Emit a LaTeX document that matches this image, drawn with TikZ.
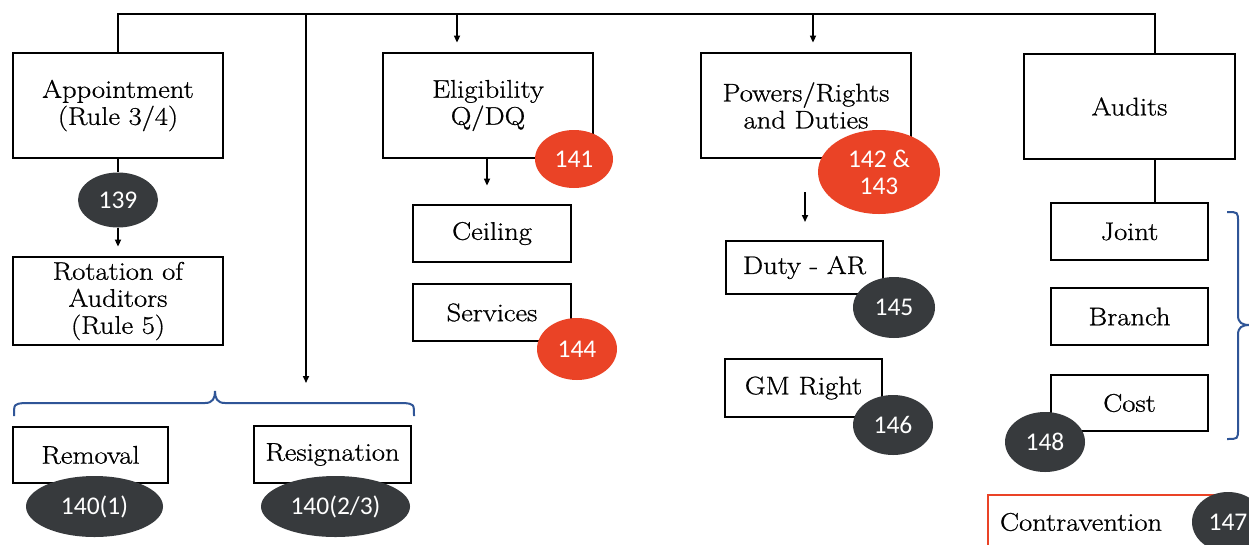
\documentclass[tikz,border=0pt]{standalone}
\usepackage{fontspec}
\newfontfamily\numfont{Carlito}
\newfontfamily\boxfont{Latin Modern Roman}[FakeBold=0.8,FakeStretch=1.12]
\usetikzlibrary{arrows.meta,shapes.geometric}
\definecolor{badgered}{RGB}{234,67,38}
\definecolor{badgedark}{RGB}{55,58,61}
\definecolor{bracketblue}{RGB}{47,85,151}

\begin{document}
\begin{tikzpicture}[x=1pt,y=-1pt,
  box/.style={draw=black, line width=2.8pt, fill=white, align=center,
    font=\boxfont\fontsize{25.5}{27}\selectfont, inner sep=0pt},
  badge/.style={ellipse, fill=#1, text=white, inner sep=0pt, align=center,
    font=\numfont\fontsize{25.5}{27}\selectfont},
  link/.style={line width=1.6pt},
  arr/.style={line width=1.6pt, -{Triangle[length=7pt,width=6pt]}},
  brace/.style={draw=bracketblue, line width=2pt}]

\useasboundingbox (0,0) rectangle (1249,544);
\fill[white] (0,0) rectangle (1249,544);
\clip (0,0) rectangle (1249,544);

% --- top row of topics
\node[box, minimum width=210pt, minimum height=105pt] (app)   at (118,105.5)  {Appointment\\(Rule 3/4)};
\node[box, minimum width=210pt, minimum height=105pt] (elig)  at (488,105.5)  {Eligibility\\Q/DQ};
\node[box, minimum width=210pt, minimum height=105pt] (pow)   at (806,105.5)  {Powers/Rights\\and Duties};
\node[box, minimum width=211pt, minimum height=105pt] (aud)   at (1129.5,106.5) {Audits};

% --- second level
\node[box, minimum width=210pt, minimum height=88pt] (rot)   at (118,301)    {Rotation of\\Auditors\\(Rule 5)};
\node[box, minimum width=155pt, minimum height=56pt] (rem)   at (90.5,455)   {Removal};
\node[box, minimum width=157pt, minimum height=57pt] (res)   at (332.5,454.5) {Resignation};
\node[box, minimum width=158pt, minimum height=57pt] (ceil)  at (492,233.5)  {Ceiling};
\node[box, minimum width=158pt, minimum height=57pt] (serv)  at (492,312.5)  {Services};
\node[box, minimum width=157pt, minimum height=53pt] (duty)  at (804.5,267.5) {Duty - AR};
\node[box, minimum width=157pt, minimum height=58pt] (gm)    at (803.5,388)  {GM Right};
\node[box, minimum width=157pt, minimum height=57pt] (joint) at (1129.5,231.5) {Joint};
\node[box, minimum width=157pt, minimum height=57pt] (branch) at (1129.5,316.5) {Branch};
\node[box, minimum width=157pt, minimum height=56pt] (cost)  at (1129.5,403)  {Cost};
\node[box, draw=badgered, line width=2pt, minimum height=54pt, text width=203pt,
      inner xsep=12pt, align=left] (contra) at (1101.5,522) {Contravention};

% --- connectors
\coordinate (busR) at (1155,14);
\coordinate (rtap) at (306,14);
\coordinate (rend) at (306,383);
\coordinate (etap) at (457,14);
\coordinate (ptap) at (813,14);
\coordinate (cdrop) at (487,0);
\coordinate (dstart) at (805,192);
\coordinate (dend) at (805,222);

\draw[link] (app.north) -- (app.north |- busR) -- (busR) -- (busR |- aud.north);
\draw[arr] (rtap) -- (rend);
\draw[arr, shorten >=9pt] (etap) -- (etap |- elig.north);
\draw[arr, shorten >=9pt] (ptap) -- (ptap |- pow.north);
\draw[arr, shorten >=18pt] (elig.south -| cdrop) -- (ceil.north -| cdrop);
\draw[arr] (dstart) -- (dend);
\draw[link] (aud.south -| busR) -- (joint.north -| busR);

% --- section badges
\node[badge=badgedark, minimum width=80pt,  minimum height=55pt] (e139) at (118,200)    {139};
\draw[link] (app.south) -- (e139.north);
\draw[arr, shorten >=9pt] (e139.south) -- (rot.north);

\node[badge=badgedark, minimum width=137pt, minimum height=61pt] (e140a) at (94.5,506.5) {140(1)};
\node[badge=badgedark, minimum width=149pt, minimum height=61pt] (e140b) at (335.5,506.5) {140(2/3)};
\node[badge=badgered,  minimum width=78pt,  minimum height=58pt] (e141) at (574,159)    {141};
\node[badge=badgered,  minimum width=122pt, minimum height=84pt] (e142) at (879,172)    {142 \&\\143};
\node[badge=badgered,  minimum width=80pt,  minimum height=62pt] (e144) at (577,349)    {144};
\node[badge=badgedark, minimum width=82pt,  minimum height=61pt] (e145) at (894,307.5)  {145};
\node[badge=badgedark, minimum width=80pt,  minimum height=60pt] (e146) at (893,425)    {146};
\node[badge=badgedark, minimum width=80pt,  minimum height=60pt] (e148) at (1045,442)   {148};
\node[badge=badgedark, minimum width=72pt,  minimum height=60pt] (e147) at (1228,522)   {147};

% --- grouping braces
\draw[brace] (14,416) .. controls (14,404) .. (24,403) -- (205,403)
  .. controls (213,403) and (215,398) .. (215,391)
  .. controls (215,398) and (217,403) .. (225,403) -- (404,403)
  .. controls (414,404) .. (414,416);
\draw[brace] (1227,212) .. controls (1238,212) .. (1238,222) -- (1238,315)
  .. controls (1238,323) and (1242,325) .. (1250,325)
  .. controls (1242,325) and (1238,327) .. (1238,335) -- (1238,429)
  .. controls (1238,439) .. (1227,439);
\end{tikzpicture}
\end{document}
